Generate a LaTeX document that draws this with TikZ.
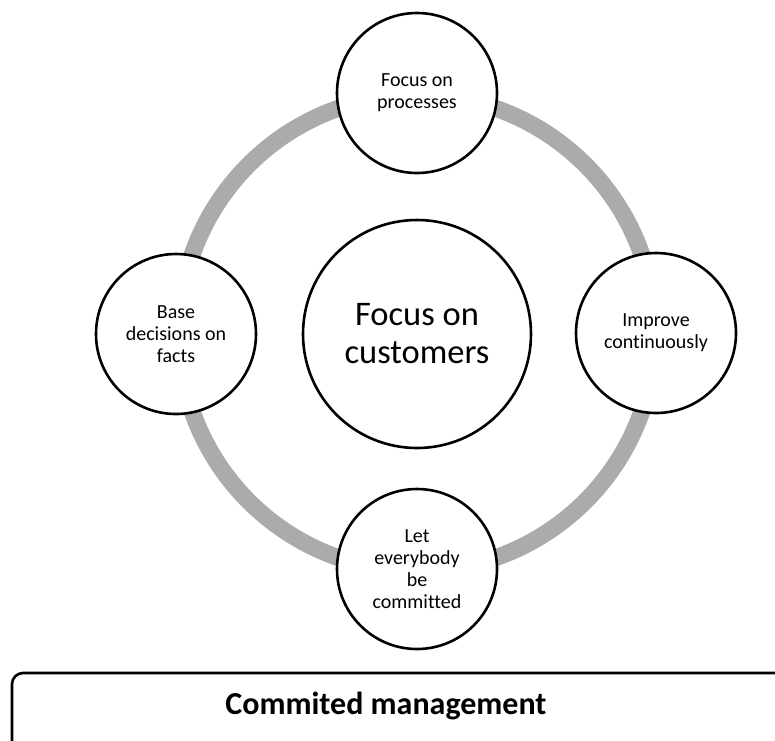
\documentclass[tikz,border=0pt]{standalone}
\usepackage{fontspec}
\setmainfont{Carlito}[Ligatures=NoCommon]
\usepackage{tikz}

\begin{document}
\begin{tikzpicture}[x=1pt,y=-1pt,
    ring/.style={draw=black!33,line width=17pt},
    small/.style={circle,draw,fill=white,line width=2.6pt,minimum size=160pt,
        align=center,font=\fontsize{20}{21.8}\selectfont},
    big/.style={circle,draw,fill=white,line width=2.6pt,minimum size=228pt,
        align=center,font=\fontsize{34.5}{38}\selectfont}]
        \useasboundingbox (0,0) rectangle (775,740);

        % Draw the grey ring behind the circles
        \coordinate (o) at (417,333);
        \draw[ring] (o) circle (238);

        % Draw the circles round the ring
        \node[small] (proc) at (417,93) {Focus on\\processes};
        \node[small] (facts) at (176,334) {Base\\decisions on\\facts};
        \node[small] (impr) at (656,333) {Improve\\continuously};
        \node[small] (comm) at (417,569) {Let\\everybody\\be\\committed};

        % Draw the middle circle
        \node[big] (cust) at (417,334) {Focus on\\customers};

        % Draw the base box
        \draw[line width=2.6pt,rounded corners=11pt] (12,673) rectangle (800,752);
        \node[font=\fontsize{32}{36}\bfseries\selectfont] (mgmt) at (386,706) {Commited management};
    \end{tikzpicture}
\end{document}
